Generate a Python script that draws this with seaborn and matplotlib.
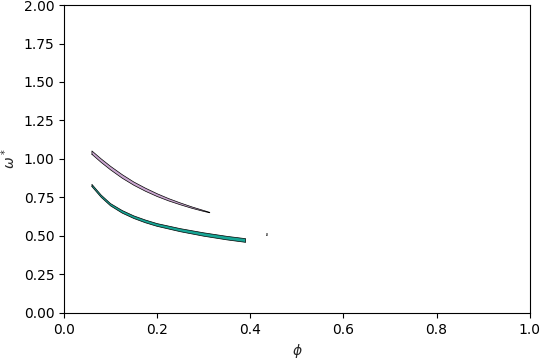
import matplotlib
matplotlib.use("Agg")
import matplotlib.pyplot as plt
import seaborn as sns
import numpy as np

# Upper (lilac) band
phi_a = [0.06, 0.08, 0.10, 0.125, 0.15, 0.175, 0.20, 0.225, 0.25, 0.275, 0.30, 0.313]
upper_a = [1.052, 1.000, 0.952, 0.898, 0.850, 0.810, 0.774, 0.742, 0.714, 0.688, 0.665, 0.653]
lower_a = [1.030, 0.977, 0.929, 0.875, 0.829, 0.790, 0.756, 0.727, 0.702, 0.679, 0.659, 0.650]

# Lower (teal) band
phi_b = [0.06, 0.08, 0.10, 0.125, 0.15, 0.175, 0.20, 0.25, 0.30, 0.35, 0.39]
upper_b = [0.835, 0.765, 0.710, 0.665, 0.630, 0.603, 0.580, 0.547, 0.520, 0.497, 0.482]
lower_b = [0.820, 0.750, 0.695, 0.648, 0.613, 0.585, 0.562, 0.527, 0.498, 0.474, 0.458]

# Tiny isolated sliver
phi_c = [0.434, 0.436]
upper_c = [0.520, 0.520]
lower_c = [0.505, 0.505]

sns.set_style("ticks")
fig = plt.figure(figsize=(5.4, 3.6), dpi=100)
ax = fig.add_axes([0.1185, 0.131, 0.8625, 0.855])

for phi, lo, up, col, ec in [(phi_a, lower_a, upper_a, "#c9a6cf", "black"),
                             (phi_b, lower_b, upper_b, "#17a595", "black"),
                             (phi_c, lower_c, upper_c, "#ffffff", "#555555")]:
    ax.fill_between(phi, lo, up, facecolor=col, edgecolor="none")
    ax.plot(list(phi) + list(phi)[::-1] + [phi[0]],
            list(lo) + list(up)[::-1] + [lo[0]],
            color=ec, lw=0.5)

ax.set_xlim(0, 1)
ax.set_ylim(0, 2)
ax.set_xticks([0, 0.2, 0.4, 0.6, 0.8, 1.0])
ax.set_yticks(np.arange(0, 2.01, 0.25))
ax.set_yticklabels([f"{v:.2f}" for v in np.arange(0, 2.01, 0.25)])
ax.set_xlabel(r"$\phi$")
ax.set_ylabel(r"$\omega^*$")
for s in ax.spines.values():
    s.set_visible(True)
    s.set_color("black")
ax.tick_params(colors="black", labelsize=10)
fig.savefig("out.png", dpi=100)
